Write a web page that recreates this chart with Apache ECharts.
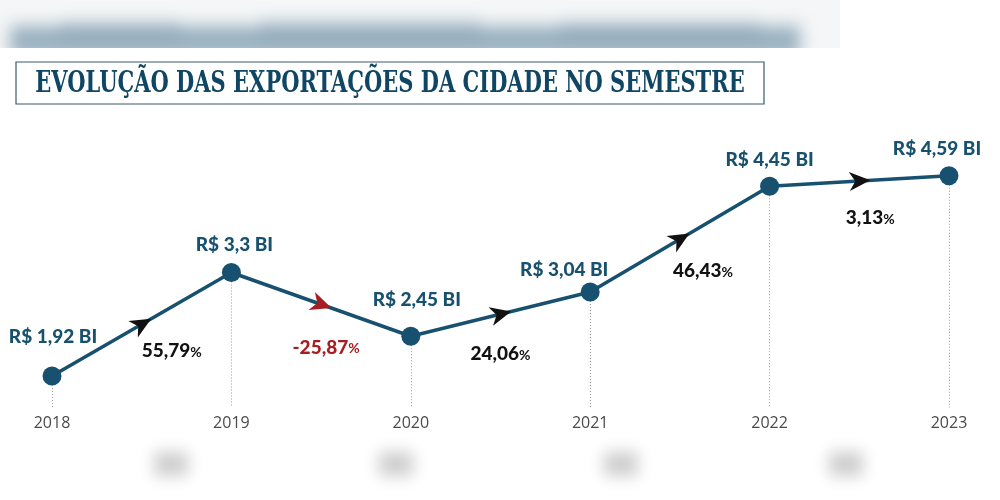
<!DOCTYPE html>
<html><head><meta charset="utf-8">
<script src="https://cdn.jsdelivr.net/npm/echarts@6/dist/echarts.min.js"></script>
<style>html,body{margin:0;padding:0;background:#fff}#c{width:1000px;height:500px}</style>
</head><body><div id="c"></div>
<script>
// ---- data ----
var years = ['2018', '2019', '2020', '2021', '2022', '2023'];
var values = [1.92, 3.3, 2.45, 3.04, 4.45, 4.59];
var valueLabels = ['R$ 1,92 BI', 'R$ 3,3 BI', 'R$ 2,45 BI', 'R$ 3,04 BI', 'R$ 4,45 BI', 'R$ 4,59 BI'];
var changes = ['55,79', '-25,87', '24,06', '46,43', '3,13'];
var titleText = 'EVOLUÇÃO DAS EXPORTAÇÕES DA CIDADE NO SEMESTRE';

// ---- layout (positions only) ----
var valueLabelOffsets = [[1, -39], [3, -28], [6, -36], [-26, -22], [0, -26], [-12, -27]];
var pctLabelOffsets = [[30, 27], [5, 43], [0, 40], [23, 32], [11, 37]];
var yMin = 1.5, yMax = 5;
var TEAL = '#17516f';

var chart = echarts.init(document.getElementById('c'), null, {renderer: 'canvas'});

var segData = [];
for (var i = 0; i < values.length - 1; i++) segData.push([i, values[i], values[i + 1]]);

function blur(x, y, w, h, color, b, z) {
  // only the blurred shadow is visible: the rect itself sits off-canvas
  return {type: 'rect', z: z, silent: true,
    shape: {x: x, y: y - 1000, width: w, height: h},
    style: {fill: color, shadowBlur: b, shadowColor: color, shadowOffsetY: 1000}};
}

var graphics = [
  {type: 'rect', z: -10, shape: {x: 0, y: 0, width: 840, height: 48}, style: {fill: '#f4f6f7'}},
  blur(10, 26, 790, 30, 'rgba(105,140,162,0.8)', 16, -5),
  blur(60, 20, 120, 20, 'rgba(95,130,150,0.4)', 14, -5),
  blur(260, 18, 220, 22, 'rgba(95,130,150,0.4)', 14, -5),
  blur(560, 20, 200, 20, 'rgba(95,130,150,0.4)', 14, -5),
  {type: 'rect', z: -4, shape: {x: 0, y: 48, width: 1000, height: 452}, style: {fill: '#ffffff'}},
  {type: 'rect', z: -4, shape: {x: 840, y: 0, width: 160, height: 48}, style: {fill: '#ffffff'}},
  {type: 'rect', z: -3, shape: {x: 16, y: 62, width: 748, height: 42}, style: {fill: '#fff', stroke: '#3a5b6e', lineWidth: 1.2}},
  {type: 'text', z: 3, x: 390, y: 84, scaleX: 0.70,
    style: {text: titleText, fill: '#0f4663', font: 'bold 30px "DejaVu Serif", serif', align: 'center', verticalAlign: 'middle'}},
  blur(154, 452, 34, 24, 'rgba(205,205,205,1)', 16, -2),
  blur(379, 452, 34, 24, 'rgba(205,205,205,1)', 16, -2),
  blur(604, 452, 34, 24, 'rgba(205,205,205,1)', 16, -2),
  blur(829, 452, 34, 24, 'rgba(205,205,205,1)', 16, -2)
];

var option = {
  animation: false,
  backgroundColor: '#fff',
  grid: {left: 52, right: 51, top: 145, bottom: 92.5},
  xAxis: {
    type: 'category', data: years, boundaryGap: false, z: 5,
    axisLine: {show: false}, axisTick: {show: false}, splitLine: {show: false},
    axisLabel: {color: '#4a4a4a', fontSize: 16, fontFamily: 'Open Sans', margin: 8}
  },
  yAxis: {type: 'value', min: yMin, max: yMax, show: false, splitLine: {show: false}},
  graphic: graphics,
  series: [
    {
      type: 'line', z: 3,
      data: values.map(function (v, i) {
        return {value: v, label: {offset: valueLabelOffsets[i]}};
      }),
      symbol: 'circle', symbolSize: 19,
      lineStyle: {color: TEAL, width: 3.5},
      itemStyle: {color: TEAL},
      label: {
        show: true, position: 'inside',
        formatter: function (p) { return valueLabels[p.dataIndex]; },
        color: TEAL, fontFamily: 'Lato', fontWeight: 900, fontSize: 19
      },
      markLine: {
        silent: true, symbol: 'none', label: {show: false}, z: 1,
        lineStyle: {color: '#9a9a9a', width: 1, type: [1, 2]},
        data: values.map(function (v, i) {
          return [{coord: [years[i], v]}, {coord: [years[i], yMin]}];
        })
      }
    },
    {
      type: 'custom', z: 5,
      data: segData,
      renderItem: function (params, api) {
        var i = api.value(0);
        var p1 = api.coord([i, api.value(1)]);
        var p2 = api.coord([i + 1, api.value(2)]);
        var dx = p2[0] - p1[0], dy = p2[1] - p1[1];
        var len = Math.sqrt(dx * dx + dy * dy);
        var ux = dx / len, uy = dy / len, nx = -uy, ny = ux;
        var mx = (p1[0] + p2[0]) / 2, my = (p1[1] + p2[1]) / 2;
        var local = [[11, 0], [-10, -9.5], [-4, 0], [-10, 9.5]];
        var pts = local.map(function (q) {
          return [mx + q[0] * ux + q[1] * nx, my + q[0] * uy + q[1] * ny];
        });
        var neg = changes[params.dataIndex].charAt(0) === '-';
        var col = neg ? '#a51e22' : '#111111';
        var off = pctLabelOffsets[params.dataIndex];
        return {
          type: 'group',
          children: [
            {type: 'polygon', shape: {points: pts}, style: {fill: col}},
            {type: 'text', x: mx + off[0], y: my + off[1], style: {
              text: '{n|' + changes[params.dataIndex] + '}{p|%}',
              align: 'center', verticalAlign: 'middle',
              rich: {
                n: {fill: col, fontSize: 19, fontWeight: 900, fontFamily: 'Lato'},
                p: {fill: col, fontSize: 14, fontWeight: 'bold', fontFamily: 'Lato', padding: [3, 0, 0, 0]}
              }
            }}
          ]
        };
      }
    }
  ]
};
chart.setOption(option);
</script></body></html>
